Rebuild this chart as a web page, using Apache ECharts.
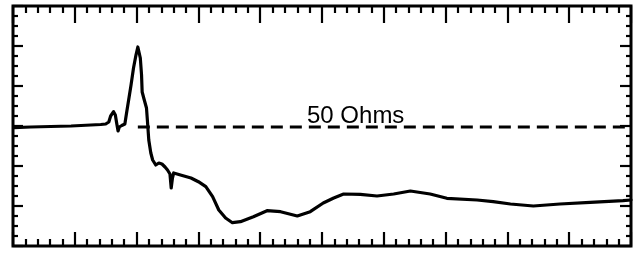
<!DOCTYPE html>
<html>
<head>
<meta charset="utf-8">
<script src="https://cdn.jsdelivr.net/npm/echarts@6/dist/echarts.min.js"></script>
<style>html,body{margin:0;padding:0;background:#fff}#c{width:639px;height:253px}</style>
</head>
<body>
<div id="c"></div>
<script>
// x: time in tenths of the full sweep (0..100), y: screen divisions (0..24)
var traceX = [0.16,2.9,6.1,9.4,12.6,14.2,15.0,15.5,15.8,16.27,16.56,16.8,17.0,17.2,17.6,18.1,18.4,18.66,19.1,19.5,19.9,20.2,20.4,20.6,20.8,20.9,21.2,21.5,21.6,21.8,21.97,22.3,22.6,23.1,23.6,24.1,24.6,25.0,25.4,25.6,25.8,26.0,27.1,28.8,30.0,31.2,32.3,33.3,34.4,35.5,36.8,38.9,41.1,43.3,46.0,48.1,50.2,51.9,53.5,56.2,58.9,61.6,64.3,67.5,70.2,75.1,77.7,80.5,84.2,88.5,93.4,98.7,100];
var traceY = [11.83,11.9,11.95,12.0,12.1,12.15,12.2,12.4,13.0,13.43,13.1,12.2,11.5,11.9,12.05,12.2,13.4,14.4,16.1,17.8,19.1,19.9,19.8,18.8,17.1,15.4,14.7,14.5,13.8,12.1,10.6,9.3,8.6,8.1,8.3,8.2,7.9,7.6,7.2,5.8,6.8,7.3,7.1,6.8,6.43,5.93,4.93,3.6,2.8,2.33,2.43,2.93,3.53,3.43,3.0,3.43,4.3,4.8,5.2,5.17,5.0,5.2,5.5,5.2,4.77,4.6,4.43,4.2,4.0,4.2,4.37,4.53,4.6];
var refX = [20.2, 100];
var refY = [11.9, 11.9];
var refLabel = "50 Ohms";

var trace = traceX.map(function(x,i){return [x, traceY[i]];});
var ref = refX.map(function(x,i){return [x, refY[i]];});

var chart = echarts.init(document.getElementById('c'), null, {renderer:'canvas'});
function xAx(pos, major, minor){
  return {type:'value', position:pos, min:0, max:100, interval:10,
    axisLine:{show:false, onZero:false}, splitLine:{show:false}, axisLabel:{show:false},
    axisTick:{show:true, inside:true, length:major, lineStyle:{color:'#000', width:2.2}},
    minorTick:{show:true, splitNumber:5, length:minor, lineStyle:{color:'#000', width:2.2}}};
}
function yAx(pos, major, minor){
  return {type:'value', position:pos, min:0, max:24, interval:4,
    axisLine:{show:false, onZero:false}, splitLine:{show:false}, axisLabel:{show:false},
    axisTick:{show:true, inside:true, length:major, lineStyle:{color:'#000', width:2.2}},
    minorTick:{show:true, splitNumber:4, length:minor, lineStyle:{color:'#000', width:2.2}}};
}
chart.setOption({
  backgroundColor:'#fff',
  animation:false,
  grid:{left:13, right:8, top:6, bottom:7, show:true, borderColor:'#000', borderWidth:3, backgroundColor:'transparent'},
  xAxis:[xAx('bottom',14,7), xAx('top',17,7)],
  yAxis:[yAx('left',10,5), yAx('right',11,5)],
  series:[
    {type:'line', data:ref, xAxisIndex:0, yAxisIndex:0, symbol:'none',
     lineStyle:{color:'#000', width:3, type:[12,7]}},
    {type:'line', data:trace, xAxisIndex:0, yAxisIndex:0, symbol:'none',
     lineStyle:{color:'#000', width:3.2, join:'round', cap:'round'}}
  ],
  graphic:[{type:'text', left:307, top:104,
    style:{text:refLabel, font:'24px "Liberation Sans", Arial, sans-serif', fill:'#000'}}]
});
</script>
</body>
</html>
